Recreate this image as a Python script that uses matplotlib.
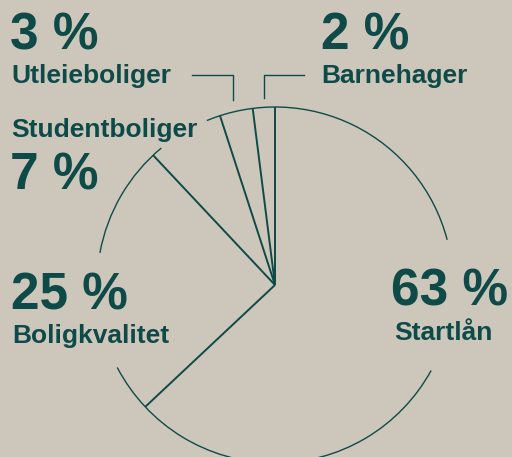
import numpy as np
import matplotlib.pyplot as plt
from matplotlib.patches import Arc

# data: share of funds by purpose, clockwise from 12 o'clock
labels = ['Startlån', 'Boligkvalitet', 'Studentboliger', 'Utleieboliger', 'Barnehager']
shares = [63, 25, 7, 3, 2]

bg = '#cdc7bb'
ink = '#0e4a47'

fig = plt.figure(figsize=(5.12, 4.57), dpi=100, facecolor=bg)
ax = fig.add_axes([0, 0, 1, 1])
ax.set_facecolor(bg)
ax.set_xlim(0, 512)
ax.set_ylim(457, 0)
ax.axis('off')

# pie geometry in pixel units
cx, cy, r = 275, 285, 178

# radial separators from cumulative shares (angle clockwise from top)
bounds = np.cumsum([0] + shares) / sum(shares) * 360
for a in bounds[:-1]:
    t = np.radians(a)
    ax.plot([cx, cx + r * np.sin(t)], [cy, cy - r * np.cos(t)],
            color=ink, lw=1.4, solid_capstyle='butt')

# outline arc, broken where the labels sit (clockwise-from-top degrees)
arc_parts = [(337.5, 435.3), (118.7, 242.4), (280.4, 320.3)]
for a0, a1 in arc_parts:
    # y axis is inverted, so matplotlib angles run clockwise here
    ax.add_patch(Arc((cx, cy), 2 * r, 2 * r, theta1=a0 - 90, theta2=a1 - 90,
                     color=ink, lw=1.0))

# leader lines for the two small slices
ax.plot([192, 233, 233], [75, 75, 100], color=ink, lw=1.0)
ax.plot([304, 264, 264], [75, 75, 98], color=ink, lw=1.0)

big = dict(fontsize=37, fontweight='bold', color=ink,
           family='Liberation Sans', va='baseline', ha='left')
small = dict(fontsize=19, fontweight='bold', color=ink,
             family='Liberation Sans', va='baseline', ha='left')

pct = {l: '%d %%' % s for l, s in zip(labels, shares)}

ax.text(10, 49, pct['Utleieboliger'], **big)
ax.text(11, 83, 'Utleieboliger', **small)
ax.text(321, 49, pct['Barnehager'], **big)
ax.text(321, 83, 'Barnehager', **small)
ax.text(11, 137, 'Studentboliger', **small)
ax.text(10, 190, pct['Studentboliger'], **big)
ax.text(11, 310, pct['Boligkvalitet'], **big)
ax.text(12, 343, 'Boligkvalitet', **small)
ax.text(391, 305, pct['Startlån'], **big)
ax.text(394, 340, 'Startlån', **small)

fig.savefig('out.png', dpi=100, facecolor=bg)
